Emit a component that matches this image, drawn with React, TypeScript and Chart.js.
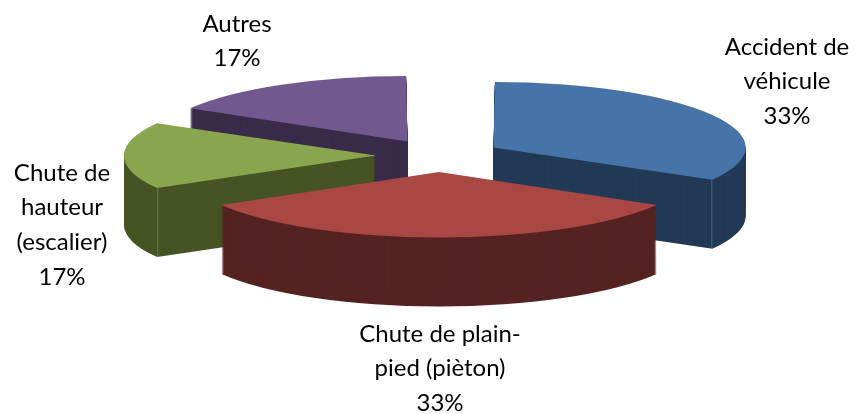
import React, { useEffect, useRef } from "react";
import { Chart, registerables } from "chart.js";

Chart.register(...registerables);

const categories = ["Accident de véhicule", "Chute de plain-pied (pièton)", "Chute de hauteur (escalier)", "Autres"];
const shares = [33.33, 33.33, 16.67, 16.67];
const labelLines = [["Accident de", "véhicule"], ["Chute de plain-", "pied (pièton)"], ["Chute de", "hauteur", "(escalier)"], ["Autres"]];
const topColors = ["#4674a8", "#a94744", "#89a54e", "#71588f"];
const sideColors = ["#223a55", "#552322", "#465425", "#392c49"];

const TILT = 0.26;
const CENTER_Y = 155.6;
const DEPTH = 69;
const EXPLODE = 63;
const RIM = 252;
const drawOrder = [3, 0, 2, 1];
const labelAnchors = [
  { x: 787, y: 47 },
  { x: 440, y: 334 },
  { x: 62, y: 173 },
  { x: 237, y: 24 },
];
const LINE_HEIGHT = 34.6;

const pie3d = {
  id: "pie3d",
  beforeDatasetsDraw(chart: any) {
    const { ctx } = chart;
    const arcs = chart.getDatasetMeta(0).data;
    const project = (arc: any, dy: number) => {
      ctx.translate(0, CENTER_Y + dy);
      ctx.scale(1, TILT);
      ctx.translate(0, -arc.y);
    };
    for (const i of drawOrder) {
      const arc = arcs[i];
      const face = arc.options;
      arc.options = { ...face, backgroundColor: sideColors[i], borderWidth: 0 };
      for (let d = DEPTH; d >= 1; d--) {
        ctx.save();
        project(arc, d);
        arc.draw(ctx);
        ctx.restore();
      }
      arc.options = face;
      if (i === 0 || i === 2) {
        const angle = i === 0 ? arc.endAngle : arc.startAngle;
        const mid = (arc.startAngle + arc.endAngle) / 2;
        const px = arc.x + Math.cos(mid) * EXPLODE + Math.cos(angle) * RIM;
        const py = CENTER_Y + (Math.sin(mid) * EXPLODE + Math.sin(angle) * RIM) * TILT;
        ctx.save();
        ctx.strokeStyle = "rgba(255,255,255,0.22)";
        ctx.lineWidth = 1;
        ctx.beginPath();
        ctx.moveTo(px, py);
        ctx.lineTo(px, py + DEPTH);
        ctx.stroke();
        ctx.restore();
      }
      ctx.save();
      project(arc, 0);
      arc.draw(ctx);
      ctx.restore();
    }
    return false;
  },
  afterDraw(chart: any) {
    const { ctx } = chart;
    const total = shares.reduce((a, b) => a + b, 0);
    ctx.save();
    ctx.fillStyle = "#000";
    ctx.font = '24px Lato, "Open Sans", sans-serif';
    ctx.textAlign = "center";
    ctx.textBaseline = "middle";
    labelLines.forEach((lines, i) => {
      const all = [...lines, `${Math.round((shares[i] / total) * 100)}%`];
      all.forEach((t, k) => ctx.fillText(t, labelAnchors[i].x, labelAnchors[i].y + k * LINE_HEIGHT));
    });
    ctx.restore();
  },
};

export default function App() {
  const ref = useRef<HTMLCanvasElement>(null);
  useEffect(() => {
    document.body.style.margin = "0";
    const chart = new Chart(ref.current as HTMLCanvasElement, {
      type: "pie",
      data: {
        labels: categories,
        datasets: [
          {
            data: shares,
            backgroundColor: topColors,
            borderWidth: 0,
            offset: EXPLODE * 4,
            clip: false,
          } as any,
        ],
      },
      options: {
        animation: false,
        responsive: false,
        radius: RIM - EXPLODE * (1 - Math.sin((2 * Math.PI) / 3)),
        layout: { padding: { left: 23 } },
        plugins: { legend: { display: false }, tooltip: { enabled: false } },
      } as any,
      plugins: [pie3d],
    });
    return () => chart.destroy();
  }, []);
  return <canvas ref={ref} width={855} height={414} style={{ display: "block", background: "#fff" }} />;
}
